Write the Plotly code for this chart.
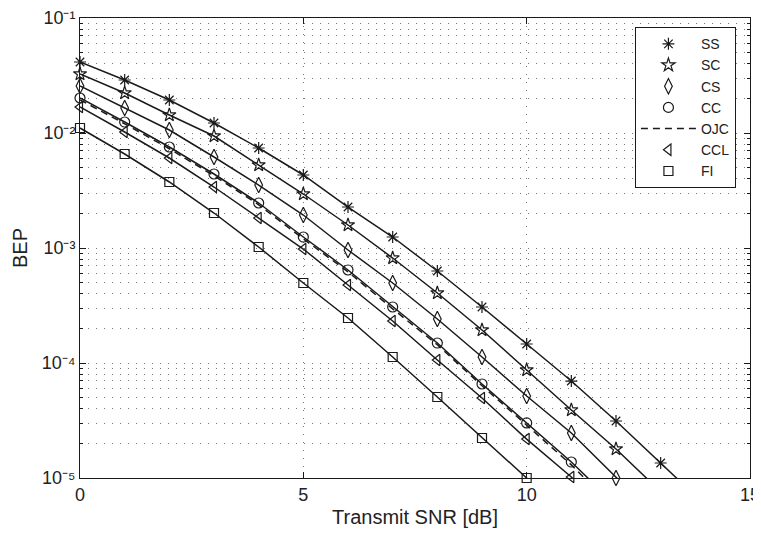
import plotly.graph_objects as go

# SNR grid (dB)
snr = list(range(0, 15))

# BEP values
ss = [0.04143, 0.02890, 0.01936, 0.01222, 0.007406, 0.004313, 0.002272, 0.001246,
      6.31e-4, 3.07e-4, 1.463e-4, 6.97e-5, 3.13e-5, 1.35e-5, 5.8e-6]
sc = [0.03258, 0.02227, 0.01434, 0.009417, 0.005268, 0.002948, 0.001585, 8.18e-4,
      4.06e-4, 1.936e-4, 8.69e-5, 3.90e-5, 1.788e-5, 7.6e-6]
cs = [0.02563, 0.01650, 0.01062, 0.006184, 0.003530, 0.001936, 9.61e-4, 4.96e-4,
      2.413e-4, 1.128e-4, 5.16e-5, 2.46e-5, 1.0e-5, 4.2e-6]
cc = [0.02015, 0.01246, 0.007556, 0.004400, 0.002462, 0.001246, 6.44e-4, 3.07e-4,
      1.492e-4, 6.57e-5, 3.01e-5, 1.377e-5, 5.8e-6]
ojc = [0.01944, 0.01202, 0.007292, 0.004246, 0.002376, 0.001202, 6.21e-4, 2.96e-4,
       1.440e-4, 6.34e-5, 2.88e-5, 1.30e-5, 5.3e-6]
ccl = [0.01683, 0.01020, 0.006061, 0.003392, 0.001823, 9.80e-4, 4.77e-4, 2.318e-4,
       1.062e-4, 4.96e-5, 2.18e-5, 1.02e-5, 4.3e-6]
fi = [0.01105, 0.006569, 0.003750, 0.002015, 0.001020, 4.96e-4, 2.462e-4, 1.128e-4,
      5.06e-5, 2.228e-5, 1.0e-5, 4.2e-6]

# number of marker points per series (remaining values only continue the curve)
n_markers = {"SS": 14, "SC": 13, "CS": 13, "CC": 12, "CCL": 12, "FI": 11}

series = [
    ("SS", ss, "asterisk-open", 10),
    ("SC", sc, "star-open", 10),
    ("CS", cs, "diamond-tall-open", 11),
    ("CC", cc, "circle-open", 10),
    ("CCL", ccl, "triangle-left-open", 10),
    ("FI", fi, "square-open", 9),
]

xticks = [0, 5, 10, 15]
yticks = [1e-5, 1e-4, 1e-3, 1e-2, 1e-1]
yticktext = ["10\u207b\u2075", "10\u207b\u2074", "10\u207b\u00b3",
             "10\u207b\u00b2", "10\u207b\u00b9"]
yminor = [k * 10.0 ** d for d in range(-5, -1) for k in range(2, 10)]

ink = "#1a1a1a"
fig = go.Figure()

# solid curves
for name, vals, sym, sz in series:
    fig.add_trace(go.Scatter(x=snr[:len(vals)], y=vals, mode="lines",
                             line=dict(color=ink, width=1.5),
                             showlegend=False, hoverinfo="skip"))

# dashed OJC curve
fig.add_trace(go.Scatter(x=snr[:len(ojc)], y=ojc, mode="lines", name="OJC",
                         line=dict(color=ink, width=1.5, dash="7px,5px"),
                         showlegend=False))

# markers (legend entries)
rank = {"SS": 1, "SC": 2, "CS": 3, "CC": 4, "OJC": 5, "CCL": 6, "FI": 7}
for name, vals, sym, sz in series:
    n = n_markers[name]
    fig.add_trace(go.Scatter(x=snr[:n], y=vals[:n], mode="markers", name=name,
                             marker=dict(symbol=sym, size=sz, color=ink,
                                         line=dict(color=ink, width=1.2)),
                             cliponaxis=False, legendrank=rank[name]))
# legend entry for OJC (dashed line)
fig.add_trace(go.Scatter(x=[None], y=[None], mode="lines", name="OJC",
                         line=dict(color=ink, width=1.5, dash="7px,5px"),
                         legendrank=rank["OJC"]))

grid = dict(showgrid=True, gridcolor="#777", gridwidth=1, griddash="1px,7px")

fig.update_layout(
    width=761, height=537,
    margin=dict(l=72, r=19, t=10, b=67),
    paper_bgcolor="white", plot_bgcolor="white",
    font=dict(family="Liberation Sans, Arial, sans-serif", size=17, color="#222"),
    legend=dict(x=0.979, y=0.980, xanchor="right", yanchor="top",
                bgcolor="white", bordercolor=ink, borderwidth=1,
                font=dict(size=14), tracegroupgap=0, itemwidth=55),
    showlegend=True,
)
fig.update_xaxes(range=[0, 15], tickmode="array", tickvals=xticks,
                 ticks="inside", ticklen=6, tickcolor=ink, showline=True,
                 linecolor=ink, linewidth=1, mirror="allticks", zeroline=False,
                 automargin=False, tickfont=dict(size=18), ticklabeloverflow="allow",
                 title=dict(text="Transmit SNR [dB]", standoff=6), **grid)
fig.update_yaxes(type="log", range=[-5, -1], tickmode="array", tickvals=yticks,
                 ticktext=yticktext, ticks="inside", ticklen=6, tickcolor=ink,
                 showline=True, linecolor=ink, linewidth=1, mirror="allticks",
                 zeroline=False, automargin=False, tickfont=dict(size=18),
                 ticklabeloverflow="allow",
                 title=dict(text="BEP", standoff=8),
                 minor=dict(tickmode="array", tickvals=yminor, ticks="inside",
                            ticklen=3, tickcolor=ink, showgrid=True,
                            gridcolor="#777", gridwidth=1, griddash="1px,7px"),
                 **grid)

fig.write_html("out.html")
